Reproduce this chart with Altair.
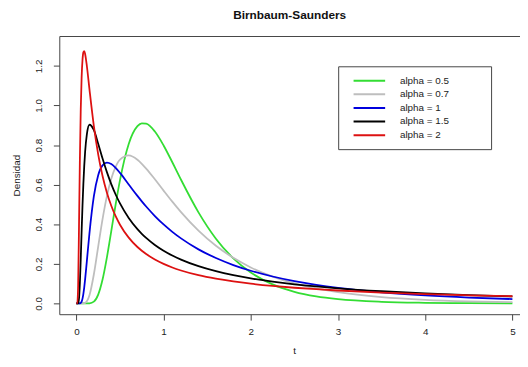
import altair as alt
import pandas as pd

t = [0, 0.01, 0.02, 0.03, 0.04, 0.05, 0.06, 0.07, 0.08, 0.09, 0.1, 0.12, 0.15,
     0.2, 0.25, 0.3, 0.35, 0.4, 0.45, 0.5, 0.6, 0.7, 0.75, 0.8, 0.9, 1.0, 1.1,
     1.2, 1.4, 1.6, 1.8, 2.0, 2.25, 2.5, 2.75, 3.0, 3.5, 4.0, 4.5, 5.0]

alpha_05 = [0, 0, 0, 0, 0, 0, 0, 0, 0, 0, 0, 0.0, 0.0005,
            0.0089, 0.0443, 0.1204, 0.2326, 0.3649, 0.4995, 0.6226, 0.8057, 0.8954, 0.9099, 0.9081, 0.8683, 0.7979, 0.7131,
            0.6246, 0.4599, 0.3268, 0.2272, 0.1557, 0.0958, 0.0584, 0.0354, 0.0213, 0.0077, 0.0028, 0.0010, 0.0004]
alpha_07 = [0, 0, 0, 0, 0, 0, 0, 0.0001, 0.0003, 0.0010, 0.0026, 0.0106, 0.0414,
            0.1460, 0.2869, 0.4258, 0.5421, 0.6295, 0.6893, 0.7258, 0.7473, 0.7254, 0.7052, 0.6812, 0.6270, 0.5699, 0.5139,
            0.4610, 0.3674, 0.2910, 0.2299, 0.1815, 0.1351, 0.1007, 0.0752, 0.0563, 0.0317, 0.0179, 0.0102, 0.0058]
alpha_1 = [0, 0, 0, 0, 0.0003, 0.0023, 0.0091, 0.0239, 0.0480, 0.0809, 0.1209, 0.2133, 0.3552,
           0.5403, 0.6476, 0.6974, 0.7112, 0.7039, 0.6846, 0.6591, 0.6010, 0.5430, 0.5155, 0.4894, 0.4414, 0.3989, 0.3614,
           0.3283, 0.2729, 0.2290, 0.1936, 0.1648, 0.1357, 0.1126, 0.0940, 0.0788, 0.0561, 0.0405, 0.0295, 0.0216]
alpha_15 = [0, 0, 0.0011, 0.0248, 0.1033, 0.2262, 0.3636, 0.4932, 0.6046, 0.6948, 0.7646, 0.8539, 0.9026,
            0.8762, 0.8066, 0.7318, 0.6630, 0.6025, 0.5501, 0.5049, 0.4315, 0.3751, 0.3517, 0.3308, 0.2952, 0.2660, 0.2416,
            0.2209, 0.1878, 0.1625, 0.1425, 0.1262, 0.1097, 0.0964, 0.0854, 0.0761, 0.0615, 0.0504, 0.0418, 0.0350]
alpha_2 = [0, 0.0005, 0.0889, 0.3921, 0.7278, 0.9812, 1.1414, 1.2298, 1.2685, 1.2747, 1.2604, 1.1994, 1.0812,
           0.8969, 0.7528, 0.6433, 0.5592, 0.4932, 0.4405, 0.3975, 0.3321, 0.2849, 0.2659, 0.2493, 0.2216, 0.1995, 0.1813,
           0.1662, 0.1424, 0.1246, 0.1106, 0.0994, 0.0881, 0.0789, 0.0714, 0.0650, 0.0548, 0.0471, 0.0409, 0.0359]

labels = ["alpha = 0.5", "alpha = 0.7", "alpha = 1", "alpha = 1.5", "alpha = 2"]
colors = ["#33dd33", "#bebebe", "#0000dd", "#000000", "#dd1111"]
series = [alpha_05, alpha_07, alpha_1, alpha_15, alpha_2]

x_ticks = [0, 1, 2, 3, 4, 5]
y_ticks = [0.0, 0.2, 0.4, 0.6, 0.8, 1.0, 1.2]

rows = []
for lab, vals in zip(labels, series):
    for tt, v in zip(t, vals):
        rows.append({"t": tt, "dens": v, "serie": lab})
df = pd.DataFrame(rows)

FONT = "Liberation Sans"
FRAME = "#444444"
xscale = alt.Scale(domain=[-0.196, 5.087], nice=False, zero=False)
yscale = alt.Scale(domain=[-0.0548, 1.351], nice=False, zero=False)

# non-breaking spaces closed by a zero-width space so Vega does not trim them
pad = "\u00a0" * 12 + "\u200b"

lines = alt.Chart(df).mark_line(strokeWidth=1.8, interpolate="monotone", clip=True).encode(
    x=alt.X("t:Q", scale=xscale,
            axis=alt.Axis(values=x_ticks, format="d", title="t", orient="bottom",
                          tickSize=6, labelPadding=7, titlePadding=9, titleX=238)),
    y=alt.Y("dens:Q", scale=yscale,
            axis=alt.Axis(values=y_ticks, format=".1f", title="Densidad",
                          labelAngle=-90, labelAlign="center", labelBaseline="bottom",
                          tickSize=6, labelPadding=10, titlePadding=12)),
    color=alt.Color("serie:N", sort=labels,
                    scale=alt.Scale(domain=labels, range=colors),
                    legend=alt.Legend(orient="none", legendX=282.7, legendY=30.7, title=None,
                                      symbolType="M-3.2,0H3.2", symbolSize=100,
                                      symbolStrokeWidth=2, symbolOffset=17,
                                      labelOffset=25, labelFontSize=10, labelFont=FONT,
                                      labelColor="#222222", strokeColor=FRAME,
                                      fillColor="white", padding=8.6, rowPadding=2.8,
                                      labelExpr="datum.label + '" + pad + "'")),
)

top = alt.Chart(df).mark_point(opacity=0).encode(
    x=alt.X("t:Q", scale=xscale,
            axis=alt.Axis(orient="top", labels=False, ticks=False, title=None,
                          domainColor=FRAME, grid=False)),
)

chart = alt.layer(lines, top).resolve_axis(x="independent").properties(
    width=467, height=282,
    padding={"left": 52, "top": 26, "right": 0, "bottom": 42},
    autosize=alt.AutoSizeParams(type="none"),
    title=alt.TitleParams("Birnbaum-Saunders", font=FONT, fontSize=12, fontWeight="bold",
                          color="#111111", offset=14, anchor="middle"),
).configure_view(stroke=None).configure_axis(
    grid=False, domainColor=FRAME, tickColor=FRAME, labelColor="#222222",
    labelFont=FONT, labelFontSize=10, titleFont=FONT, titleFontSize=10,
    titleFontWeight="normal", titleColor="#222222",
)

chart.save("out.html", embed_options={"renderer": "svg", "actions": False})
